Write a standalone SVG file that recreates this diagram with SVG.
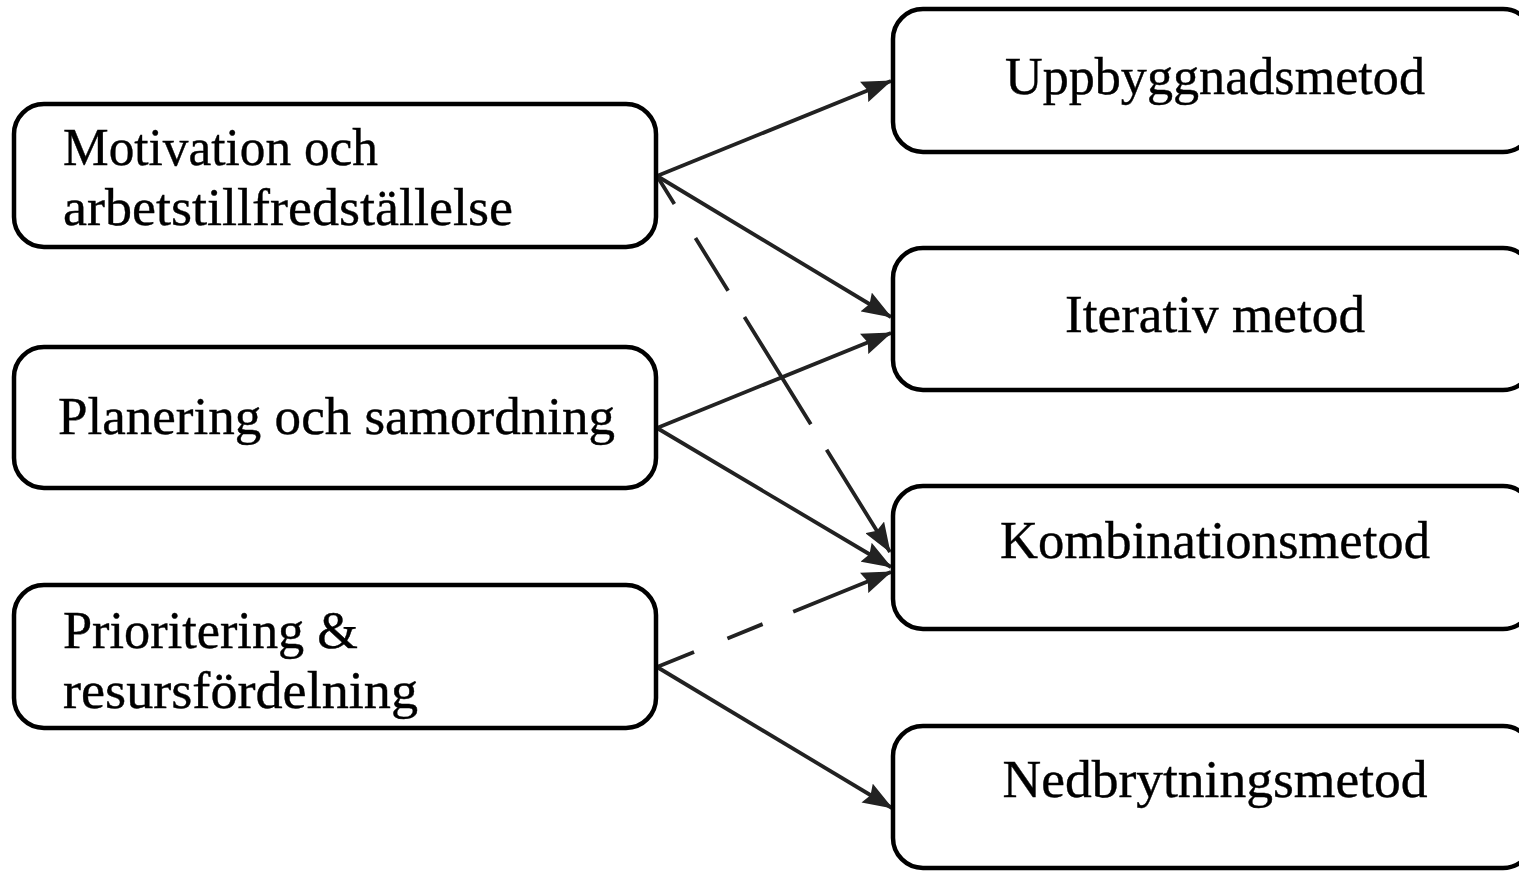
<svg xmlns="http://www.w3.org/2000/svg" width="1519" height="872" viewBox="0 0 1519 872">
  <style>
    .box { fill: #ffffff; stroke: #000000; stroke-width: 4.5; }
    .lbl { font-family: "Liberation Serif", "Times New Roman", serif; font-size: 53px; fill: #000000; stroke: #000000; stroke-width: 0.4; }
    .mid { text-anchor: middle; }
    .link { fill: none; stroke: #222222; stroke-width: 3.8; marker-end: url(#head); }
  </style>
  <defs>
    <marker id="head" markerUnits="userSpaceOnUse" markerWidth="30" markerHeight="22" refX="29" refY="11" orient="auto">
      <path d="M0,0 L30,11 L0,22 L4,11 z" fill="#222222"/>
    </marker>
  </defs>

  <rect width="1519" height="872" fill="#ffffff"/>

  <!-- connectors -->
  <g id="connectors">
    <line class="link" x1="657" y1="176" x2="891" y2="81"/>
    <line class="link" x1="657" y1="176" x2="891" y2="317"/>
    <line class="link" x1="657" y1="176" x2="890" y2="552" stroke-dasharray="33 40 62 31 126 30 300"/>
    <line class="link" x1="657" y1="428" x2="891" y2="333"/>
    <line class="link" x1="657" y1="428" x2="891" y2="567"/>
    <line class="link" x1="657" y1="667" x2="891" y2="572" stroke-dasharray="40 36 38 33 300"/>
    <line class="link" x1="657" y1="667" x2="892" y2="808"/>
  </g>

  <!-- left column: factors -->
  <g id="motivation">
    <rect class="box" x="14" y="104" width="642" height="143" rx="30"/>
    <text class="lbl" x="63" y="165" textLength="315" lengthAdjust="spacingAndGlyphs">Motivation och</text>
    <text class="lbl" x="63" y="225" textLength="450" lengthAdjust="spacingAndGlyphs">arbetstillfredställelse</text>
  </g>
  <g id="planering">
    <rect class="box" x="14" y="347" width="642" height="141" rx="30"/>
    <text class="lbl" x="58" y="434" textLength="557" lengthAdjust="spacingAndGlyphs">Planering och samordning</text>
  </g>
  <g id="prioritering">
    <rect class="box" x="14" y="585" width="642" height="143" rx="30"/>
    <text class="lbl" x="63" y="648" textLength="295" lengthAdjust="spacingAndGlyphs">Prioritering &amp;</text>
    <text class="lbl" x="63" y="708" textLength="355" lengthAdjust="spacingAndGlyphs">resursfördelning</text>
  </g>

  <!-- right column: methods -->
  <g id="uppbyggnad">
    <rect class="box" x="893" y="9" width="640" height="143" rx="30"/>
    <text class="lbl mid" x="1215" y="94" textLength="420" lengthAdjust="spacingAndGlyphs">Uppbyggnadsmetod</text>
  </g>
  <g id="iterativ">
    <rect class="box" x="893" y="248" width="640" height="142" rx="30"/>
    <text class="lbl mid" x="1215" y="332" textLength="300" lengthAdjust="spacingAndGlyphs">Iterativ metod</text>
  </g>
  <g id="kombination">
    <rect class="box" x="893" y="486" width="640" height="143" rx="30"/>
    <text class="lbl mid" x="1215" y="558" textLength="430" lengthAdjust="spacingAndGlyphs">Kombinationsmetod</text>
  </g>
  <g id="nedbrytning">
    <rect class="box" x="893" y="726" width="640" height="142" rx="30"/>
    <text class="lbl mid" x="1215" y="797" textLength="425" lengthAdjust="spacingAndGlyphs">Nedbrytningsmetod</text>
  </g>
</svg>
